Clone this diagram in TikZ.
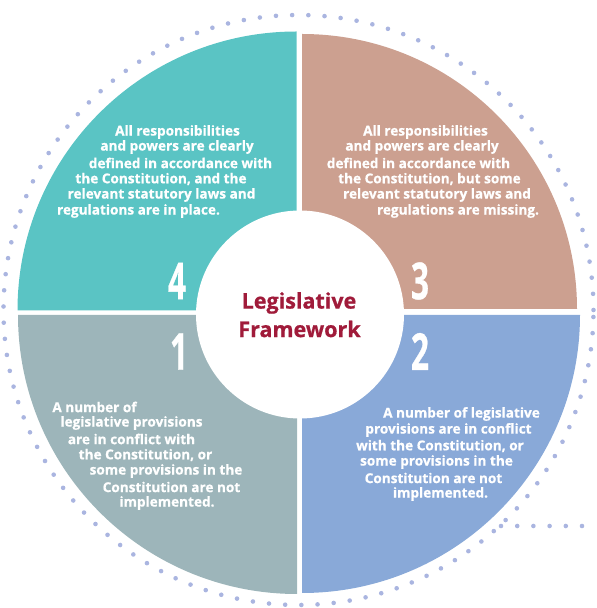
\documentclass[tikz,border=0pt]{standalone}
\usepackage{fontspec}
\setmainfont{Open Sans}[BoldFeatures={FakeBold=0.7}]
\definecolor{tealq}{RGB}{90,196,196}
\definecolor{salmonq}{RGB}{204,160,144}
\definecolor{greyq}{RGB}{157,181,186}
\definecolor{blueq}{RGB}{137,169,216}
\definecolor{dotc}{RGB}{170,181,224}
\definecolor{titlec}{RGB}{160,27,58}
\tikzset{
  dotline/.style={draw=dotc, line width=4.6pt, line cap=round, dash pattern=on 0pt off 16.2pt},
  txt/.style={text=white, font=\fontsize{13.6}{16}\selectfont\bfseries, inner sep=0pt},
  digit/.style={text=white, font=\fontsize{51}{51}\selectfont\bfseries, inner sep=0pt},
  title/.style={text=titlec, font=\fontsize{21.5}{26}\selectfont\bfseries, inner sep=0pt}
}
\begin{document}
\begin{tikzpicture}[x=1pt,y=1pt]
\useasboundingbox (0,0) rectangle (597,608);
% dotted ring
\coordinate (ringc) at (298.5,298);
\draw[dotline] (ringc) circle (295pt);
\coordinate (h1) at (501,82);
\coordinate (h2) at (598,82);
\draw[dotline] (h1) -- (h2);
% quadrants
\fill[tealq] (296.5,297.5) -- ++(-279,0) arc[start angle=180,end angle=90,radius=279pt] -- cycle;
\fill[salmonq] (302,299) -- ++(275,0) arc[start angle=0,end angle=90,radius=275pt] -- cycle;
\fill[greyq] (297,293) -- ++(-279,0) arc[start angle=180,end angle=270,radius=279pt] -- cycle;
\fill[blueq] (302,293) -- ++(278,0) arc[start angle=0,end angle=-90,radius=278pt] -- cycle;
% centre
\fill[white] (300,293.5) circle (104pt);
\node[title] (t1) at (299,305) {Legislative};
\node[title] (t2) at (299.5,279) {Framework};
% digits
\node[digit] (d4) at (177,327) {\scalebox{0.62}[1]{4}};
\node[digit] (d3) at (420,327) {\scalebox{0.62}[1]{3}};
\node[digit] (d1) at (179,256.5) {\scalebox{0.62}[1]{1}};
\node[digit] (d2) at (420,256.5) {\scalebox{0.62}[1]{2}};
% teal text
\node[txt] (a1) at (177.5,476) {All responsibilities};
\node[txt] (a2) at (177,461) {and powers are clearly};
\node[txt] (a3) at (180.5,445) {defined in accordance with};
\node[txt] (a4) at (161,429) {the Constitution, and the};
\node[txt] (a5) at (161.5,413) {relevant statutory laws and};
\node[txt] (a6) at (138.5,397) {regulations are in place.};
% salmon text
\node[txt] (b1) at (425.5,476) {All responsibilities};
\node[txt] (b2) at (422,461) {and powers are clearly};
\node[txt] (b3) at (418.5,445) {defined in accordance with};
\node[txt] (b4) at (429.5,429) {the Constitution, but some};
\node[txt] (b5) at (437,413) {relevant statutory laws and};
\node[txt] (b6) at (458,397) {regulations are missing.};
% grey text
\node[txt] (c1) at (94.5,201) {A number of};
\node[txt] (c2) at (131.5,185) {legislative provisions};
\node[txt] (c3) at (131.5,169) {are in conflict with};
\node[txt] (c4) at (145.5,153) {the Constitution, or};
\node[txt] (c5) at (166,137) {some provisions in the};
\node[txt] (c6) at (171.5,121) {Constitution are not};
\node[txt] (c7) at (167,105) {implemented.};
% blue text
\node[txt] (e1) at (461.5,194) {A number of legislative};
\node[txt] (e2) at (448.5,178) {provisions are in conflict};
\node[txt] (e3) at (440,162) {with the Constitution, or};
\node[txt] (e4) at (436.5,146) {some provisions in the};
\node[txt] (e5) at (433.5,130) {Constitution are not};
\node[txt] (e6) at (440.5,114) {implemented.};
\end{tikzpicture}
\end{document}
